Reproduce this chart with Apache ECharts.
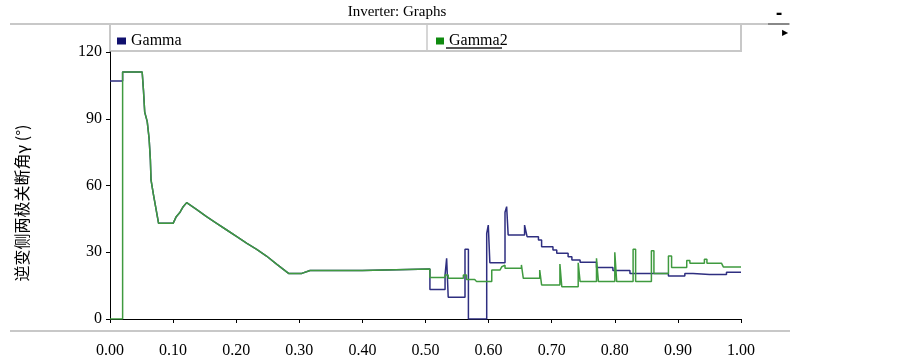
<!DOCTYPE html>
<html>
<head>
<meta charset="utf-8">
<title>Inverter: Graphs</title>
<script src="https://cdn.jsdelivr.net/npm/echarts@6/dist/echarts.min.js"></script>
<style>
  html, body { margin: 0; padding: 0; background: #fff; }
  #mychart { width: 903px; height: 363px; }
</style>
</head>
<body>
<div id="mychart"></div>
<script>
// 图表数据
const seriesNames = ['Gamma', 'Gamma2'];
const xTicks = [0, 0.1, 0.2, 0.3, 0.4, 0.5, 0.6, 0.7, 0.8, 0.9, 1.0];
const yTicks = [0, 30, 60, 90, 120];

// 两条曲线重合的部分 (0.02 ~ 0.507)
const sharedPart = [
  [0.02, 111], [0.051, 111], [0.053, 103], [0.055, 93], [0.059, 88.7], [0.062, 81],
  [0.064, 71.5], [0.065, 62.5], [0.069, 55.7], [0.072, 55], [0.077, 43], [0.100, 43],
  [0.105, 46], [0.111, 48], [0.116, 50.5], [0.1215, 52.3], [0.137, 49.3], [0.153, 46],
  [0.169, 43], [0.185, 40], [0.201, 37], [0.217, 34], [0.2325, 31.3], [0.248, 28.3],
  [0.264, 24.7], [0.283, 20.5], [0.304, 20.5], [0.317, 21.8], [0.40, 21.8], [0.40, 22.5],
  [0.507, 22.5]
];

const gammaHead = [[0, 107], [0.02, 107]];
const gammaTail = [
  [0.507, 13.3], [0.531, 13.3], [0.531, 19.8], [0.5335, 19.8], [0.5335, 27.3], [0.536, 27.3],
  [0.536, 9.8], [0.5626, 9.8], [0.5626, 31.3], [0.568, 31.3], [0.568, 0], [0.597, 0],
  [0.597, 38.5], [0.5995, 38.5], [0.5995, 42.2], [0.602, 42.2], [0.602, 25.3], [0.626, 25.3],
  [0.626, 48], [0.6286, 48], [0.6286, 50.5], [0.631, 50.5], [0.631, 37.8], [0.657, 37.8],
  [0.657, 42.2], [0.660, 42.2], [0.661, 37], [0.679, 37], [0.679, 35.5], [0.684, 35.5],
  [0.684, 32.5], [0.702, 32.5], [0.702, 31], [0.708, 31], [0.708, 29.5], [0.726, 29.5],
  [0.726, 28], [0.732, 28], [0.732, 26.5], [0.745, 26.5], [0.745, 25.5], [0.771, 25.5],
  [0.771, 23.2], [0.797, 23.2], [0.797, 21.8], [0.824, 21.8], [0.824, 20.5], [0.885, 20.5],
  [0.885, 19.3], [0.911, 19.3], [0.911, 20.5], [0.924, 20.5], [0.924, 20], [0.95, 20],
  [0.95, 20.8], [0.953, 20.8], [0.953, 20], [0.977, 20], [0.977, 21], [1.0, 21]
];

const gamma2Head = [[0, 0], [0.02, 0]];
const gamma2Tail = [
  [0.507, 18.7], [0.531, 18.7], [0.531, 19.8], [0.536, 19.8], [0.536, 18.3], [0.560, 18.3],
  [0.560, 19.8], [0.565, 19.8], [0.565, 17.8], [0.578, 17.8], [0.581, 16.8], [0.605, 16.8],
  [0.605, 22], [0.618, 22], [0.621, 23.5], [0.623, 23.5], [0.623, 24.2], [0.626, 24.2],
  [0.626, 22.8], [0.652, 22.8], [0.652, 24.3], [0.655, 24.3], [0.655, 18.3], [0.681, 18.3],
  [0.681, 22], [0.684, 22], [0.684, 15.3], [0.713, 15.3], [0.713, 24.7], [0.716, 24.7],
  [0.716, 14.5], [0.742, 14.5], [0.742, 25.3], [0.745, 25.3], [0.745, 16.8], [0.771, 16.8],
  [0.771, 27.3], [0.774, 27.3], [0.774, 16.8], [0.800, 16.8], [0.800, 30], [0.803, 30],
  [0.803, 16.8], [0.829, 16.8], [0.829, 31.3], [0.833, 31.3], [0.833, 16.8], [0.858, 16.8],
  [0.858, 30.7], [0.862, 30.7], [0.862, 20.5], [0.885, 20.5], [0.885, 28.3], [0.890, 28.3],
  [0.890, 23.2], [0.914, 23.2], [0.914, 26.3], [0.919, 26.3], [0.919, 25.1], [0.942, 25.1],
  [0.942, 26.8], [0.946, 26.8], [0.946, 25.1], [0.969, 25.1], [0.969, 25.5], [0.972, 25.5],
  [0.972, 23.4], [1.0, 23.4]
];

const gammaData = gammaHead.concat(sharedPart, gammaTail);
const gamma2Data = gamma2Head.concat(sharedPart, gamma2Tail);

const serif = '"Liberation Serif", "Times New Roman", serif';
const navy = '#2e2e80';
const green = '#3f9a3f';

const option = {
  animation: false,
  backgroundColor: '#fff',
  grid: { left: 110, right: 162, top: 52, bottom: 44, containLabel: false },
  legend: [{
    data: [seriesNames[0]],
    left: 112, top: 28,
    icon: 'rect', itemWidth: 9, itemHeight: 7,
    textStyle: { fontFamily: serif, fontSize: 16, color: '#000' },
    selectedMode: false
  }, {
    data: [seriesNames[1]],
    left: 431, top: 28,
    icon: 'rect', itemWidth: 8, itemHeight: 7,
    textStyle: { fontFamily: serif, fontSize: 16, color: '#000' },
    selectedMode: false
  }],
  xAxis: {
    type: 'value',
    min: xTicks[0], max: xTicks[xTicks.length - 1], interval: xTicks[1] - xTicks[0],
    offset: 15,
    axisLine: { show: true, lineStyle: { color: '#000', width: 1 } },
    axisTick: { show: true, length: 4, lineStyle: { color: '#000' } },
    axisLabel: {
      margin: 9, color: '#000', fontFamily: serif, fontSize: 16,
      formatter: function (v) { return v.toFixed(2); }
    },
    splitLine: { show: false }
  },
  yAxis: {
    type: 'value',
    min: yTicks[0], max: yTicks[yTicks.length - 1], interval: yTicks[1] - yTicks[0],
    axisLine: { show: true, lineStyle: { color: '#000', width: 1 } },
    axisTick: { show: true, length: 4, lineStyle: { color: '#000' } },
    axisLabel: { margin: 8, color: '#000', fontFamily: serif, fontSize: 16 },
    splitLine: { show: false }
  },
  graphic: [
    // 标题
    { type: 'text', x: 397, y: 12, style: { text: 'Inverter: Graphs', font: '15px ' + serif, fill: '#000', textAlign: 'center', textVerticalAlign: 'middle' } },
    // 顶部灰线
    { type: 'line', shape: { x1: 10, y1: 24, x2: 790, y2: 24 }, style: { stroke: '#c8c8c8', lineWidth: 2 } },
    { type: 'line', shape: { x1: 768, y1: 24, x2: 789, y2: 24 }, style: { stroke: '#888', lineWidth: 2 } },
    { type: 'text', x: 779, y: 14, style: { text: '-', font: 'bold 16px "DejaVu Sans"', fill: '#000', textAlign: 'center', textVerticalAlign: 'middle' } },
    { type: 'text', x: 785, y: 33, style: { text: '▶', font: '8px "DejaVu Sans"', fill: '#000', textAlign: 'center', textVerticalAlign: 'middle' } },
    // 图例框
    { type: 'rect', shape: { x: 110, y: 24, width: 631, height: 27 }, style: { fill: 'none', stroke: '#c8c8c8', lineWidth: 2 } },
    { type: 'line', shape: { x1: 427, y1: 24, x2: 427, y2: 51 }, style: { stroke: '#c8c8c8', lineWidth: 1.5 } },
    { type: 'line', shape: { x1: 446, y1: 48, x2: 502, y2: 48 }, style: { stroke: '#555', lineWidth: 2 } },
    // 底部灰线
    { type: 'line', shape: { x1: 10, y1: 331, x2: 790, y2: 331 }, style: { stroke: '#c8c8c8', lineWidth: 2 } },
    // 纵轴名称
    { type: 'text', x: 22, y: 203, rotation: Math.PI / 2, style: { text: '逆变侧两极关断角γ (°)', font: '16px "Noto Sans CJK SC"', fill: '#000', textAlign: 'center', textVerticalAlign: 'middle' } }
  ],
  series: [{
    name: seriesNames[0],
    type: 'line',
    showSymbol: false,
    itemStyle: { color: '#10106e' },
    lineStyle: { color: navy, width: 1.5 },
    data: gammaData
  }, {
    name: seriesNames[1],
    type: 'line',
    showSymbol: false,
    itemStyle: { color: '#0f8a0f' },
    lineStyle: { color: green, width: 1.5 },
    data: gamma2Data
  }]
};

const myChart = echarts.init(document.getElementById('mychart'));
myChart.setOption(option);
</script>
</body>
</html>
